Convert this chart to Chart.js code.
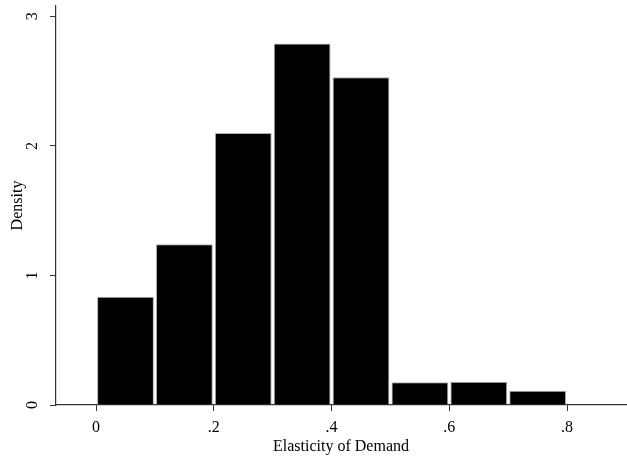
<!DOCTYPE html>
<html>
<head>
<meta charset="utf-8">
<script src="https://cdn.jsdelivr.net/npm/chart.js@4.4.1/dist/chart.umd.min.js"></script>
<style>
  html, body { margin: 0; padding: 0; background: #fff; }
  #wrap { width: 627px; height: 456px; }
</style>
</head>
<body>
<div id="wrap"><canvas id="hist"></canvas></div>
<script>
// Histogram data (bin midpoints, width 0.1)
const binCenters = [0.05, 0.15, 0.25, 0.35, 0.45, 0.55, 0.65, 0.75];
const densities = [0.835, 1.24, 2.10, 2.79, 2.53, 0.175, 0.18, 0.11];
const xTicks = [0, 0.2, 0.4, 0.6, 0.8];
const yTicks = [0, 1, 2, 3];

const FONT = "'Liberation Serif', 'Times New Roman', serif";
const fmtTick = (v) => {
  const s = String(Math.round(v * 10) / 10);
  return s.startsWith("0.") ? s.slice(1) : s;
};

const ctx = document.getElementById("hist").getContext("2d");
new Chart(ctx, {
  type: "bar",
  data: {
    datasets: [
      {
        data: binCenters.map((x, i) => ({ x, y: densities[i] })),
        backgroundColor: "#000",
        borderColor: "#b0b0b0",
        borderWidth: 1,
        barPercentage: 0.965,
        categoryPercentage: 1,
      },
    ],
  },
  options: {
    responsive: true,
    maintainAspectRatio: false,
    animation: false,
    layout: { padding: { top: 6, right: 1, left: 0, bottom: 0 } },
    plugins: { legend: { display: false }, tooltip: { enabled: false } },
    scales: {
      x: {
        type: "linear",
        offset: false,
        min: -0.068,
        max: 0.9,
        afterBuildTicks: (s) => { s.ticks = xTicks.map((v) => ({ value: v })); },
        afterFit: (s) => { s.height = 51; s.paddingLeft = 0; s.paddingRight = 0; },
        grid: { display: true, offset: false, drawOnChartArea: false, tickLength: 6, color: "#333", tickWidth: 1 },
        border: { display: true, color: "#333", width: 1.2 },
        ticks: {
          color: "#000",
          font: { family: FONT, size: 16 },
          padding: 7,
          maxRotation: 0,
          callback: (v) => fmtTick(v),
        },
        title: {
          display: true,
          text: "Elasticity of Demand",
          color: "#000",
          font: { family: FONT, size: 16 },
          padding: { top: 0, bottom: 0 },
        },
      },
      y: {
        min: 0,
        max: 3.08,
        afterBuildTicks: (s) => { s.ticks = yTicks.map((v) => ({ value: v })); },
        afterFit: (s) => { s.width = 56; s.paddingTop = 0; s.paddingBottom = 0; },
        grid: { display: true, drawOnChartArea: false, tickLength: 6, color: "#333", tickWidth: 1 },
        border: { display: true, color: "#333", width: 1.2 },
        ticks: {
          color: "#000",
          font: { family: FONT, size: 16 },
          padding: 13,
          minRotation: 90,
          maxRotation: 90,
          crossAlign: "center",
          callback: (v) => fmtTick(v),
        },
        title: {
          display: true,
          text: "Density",
          color: "#000",
          font: { family: FONT, size: 16 },
          padding: { top: 8, bottom: 0 },
        },
      },
    },
  },
});
</script>
</body>
</html>
